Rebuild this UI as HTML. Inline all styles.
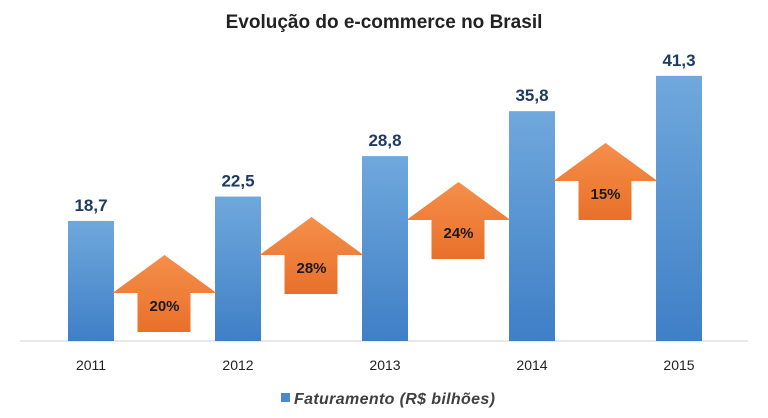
<!DOCTYPE html>
<html><head><meta charset="utf-8"><style>
body{margin:0;background:#fff;}
svg{display:block;font-family:"Liberation Sans",sans-serif;}
</style></head><body>
<svg id="c" width="768" height="418" viewBox="0 0 768 418">
<defs>
<linearGradient id="bg" x1="0" y1="0" x2="0" y2="1"><stop offset="0" stop-color="#6fa8dc"/><stop offset="1" stop-color="#3f7fc6"/></linearGradient>
<linearGradient id="og" x1="0" y1="0" x2="0" y2="1"><stop offset="0" stop-color="#f58f4a"/><stop offset="1" stop-color="#e8702a"/></linearGradient>
</defs>
<text x="384" y="28" text-anchor="middle" font-size="19" font-weight="bold" fill="#222">Evolução do e-commerce no Brasil</text>
<line x1="20" y1="341" x2="748" y2="341" stroke="#d0d0d0"/>
<g id="bars"></g>
<g id="arrows"></g>
<rect x="281" y="393" width="9" height="9" fill="#4a8bd0"/>
<text x="294" y="404" font-size="16" font-weight="bold" font-style="italic" fill="#404040" textLength="201">Faturamento (R$ bilhões)</text>
</svg>
<script>
const categories=["2011","2012","2013","2014","2015"];
const values=[18.7,22.5,28.8,35.8,41.3];
const valueLabels=["18,7","22,5","28,8","35,8","41,3"];
const growth=["20%","28%","24%","15%"];
const arrowTips=[255,217,182,143];
const NS="http://www.w3.org/2000/svg";
const base=341, scale=6.42, x0=91, step=147, bw=46;
const y=v=>base-v*scale;
const xc=i=>x0+i*step;
function el(t,a,p){const e=document.createElementNS(NS,t);for(const k in a)e.setAttribute(k,a[k]);p.appendChild(e);return e;}
const gb=document.getElementById('bars'),ga=document.getElementById('arrows');
values.forEach((v,i)=>{
  const r=el('rect',{x:xc(i)-bw/2,y:y(v),width:bw,height:base-y(v),fill:'url(#bg)'},gb);
  
  
  const t=el('text',{x:xc(i),y:y(v)-10,'text-anchor':'middle','font-size':17,'font-weight':'bold',fill:'#1f3b63'},gb);
  t.textContent=valueLabels[i];
  
  
  const c=el('text',{x:xc(i),y:370,'text-anchor':'middle','font-size':14,fill:'#222'},gb);
  c.textContent=categories[i];
  
  
});
growth.forEach((g,i)=>{
  const cx=(xc(i)+xc(i+1))/2, t=arrowTips[i];
  const pts=[[cx,t],[cx+52,t+38],[cx+26,t+38],[cx+26,t+77],[cx-27,t+77],[cx-27,t+38],[cx-52,t+38]].map(p=>p.join(',')).join(' ');
  const p=el('polygon',{points:pts,fill:'url(#og)'},ga);
  
  
  const tx=el('text',{x:cx,y:t+56,'text-anchor':'middle','font-size':15,'font-weight':'bold',fill:'#1a1a1a'},ga);
  tx.textContent=g;
  
  
});
</script>
</body></html>
